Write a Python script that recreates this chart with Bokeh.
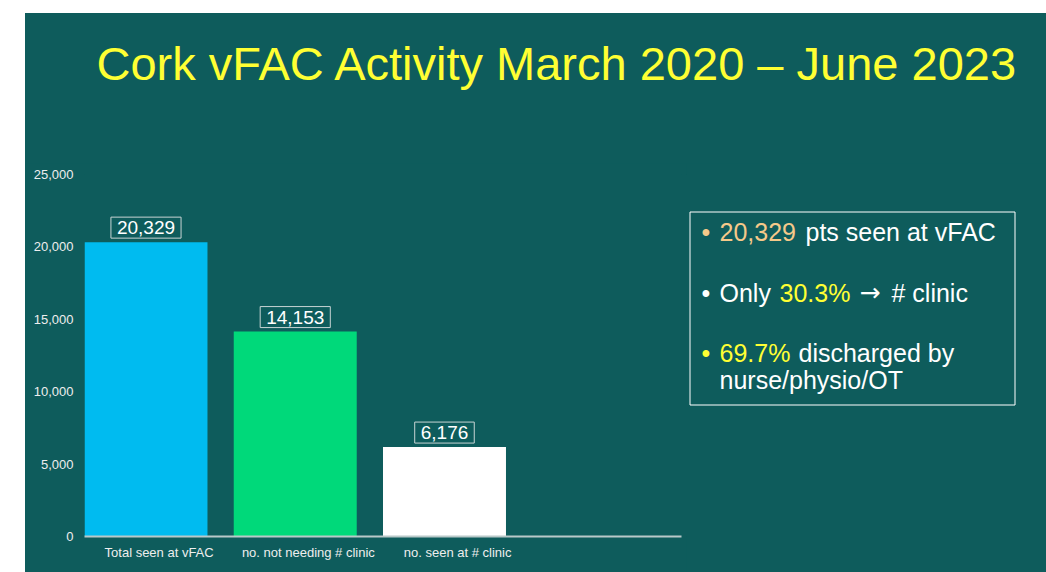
from bokeh.plotting import figure
from bokeh.layouts import column, row
from bokeh.models import ColumnDataSource, Label, FixedTicker, NumeralTickFormatter
from bokeh.transform import dodge
from bokeh.embed import file_html
from bokeh.resources import INLINE

# ---- data ----
categories = ["Total seen at vFAC", "no. not needing # clinic", "no. seen at # clinic", " "]
bar_categories = ["Total seen at vFAC", "no. not needing # clinic", "no. seen at # clinic"]
values = [20329, 14153, 6176]
bar_colors = ["#00bbf0", "#00d97a", "#ffffff"]
value_labels = ["20,329", "14,153", "6,176"]
y_ticks = [0, 5000, 10000, 15000, 20000, 25000]
title_text = "Cork vFAC Activity March 2020 \u2013 June 2023"

BG = "#0e5c5c"
FONT = "Liberation Sans"
TAN = "#f5c98a"
YELLOW = "#ffff33"
BAR_SHIFT = -0.088
BAR_WIDTH = 0.824
BGSTYLE = {"background-color": BG}

W, H = 1021, 559
TITLE_H = 150
CHART_W = 661
CHART_H = H - TITLE_H
BOX_W = W - CHART_W

# ---- title strip ----
t = figure(width=W, height=TITLE_H, x_range=(0, W), y_range=(TITLE_H, 0),
           output_backend="svg", toolbar_location=None, x_axis_type=None, y_axis_type=None,
           min_border=0, background_fill_color=BG, border_fill_color=BG, outline_line_color=None,
           styles=BGSTYLE)
t.grid.visible = False
t.add_layout(Label(x=71, y=50, text=title_text, text_font=FONT, text_font_size="47px",
                   text_color=YELLOW, text_baseline="alphabetic"))

# ---- bar chart ----
src = ColumnDataSource(dict(cat=bar_categories, val=values, color=bar_colors, lab=value_labels))

p = figure(width=CHART_W, height=CHART_H, x_range=categories, y_range=(0, 25000),
           output_backend="svg", toolbar_location=None,
           min_border_left=59, min_border_right=5, min_border_top=11, min_border_bottom=36,
           background_fill_color=BG, border_fill_color=BG, outline_line_color=None,
           styles=BGSTYLE)

p.vbar(x=dodge("cat", BAR_SHIFT, range=p.x_range), top="val", width=BAR_WIDTH, source=src,
       fill_color="color", line_color=None)

p.xgrid.grid_line_color = None
p.ygrid.grid_line_color = None

p.yaxis.ticker = FixedTicker(ticks=y_ticks)
p.yaxis.formatter = NumeralTickFormatter(format="0,0")
p.yaxis.axis_line_color = None
p.yaxis.major_tick_line_color = None
p.yaxis.minor_tick_line_color = None
p.yaxis.major_tick_out = 0
p.yaxis.major_label_standoff = 11
p.yaxis.major_label_text_font = FONT
p.yaxis.major_label_text_font_size = "13px"
p.yaxis.major_label_text_color = "#eeeeee"

p.xaxis.axis_line_color = "#b9c9c9"
p.xaxis.axis_line_width = 2
p.xaxis.major_tick_line_color = None
p.xaxis.major_tick_out = 0
p.xaxis.major_label_standoff = 8
p.xaxis.major_label_text_font = FONT
p.xaxis.major_label_text_font_size = "13px"
p.xaxis.major_label_text_color = "#eeeeee"

for i, (v, lab) in enumerate(zip(values, value_labels)):
    p.add_layout(Label(x=i + 0.5 + BAR_SHIFT, y=v, y_offset=4, text=lab,
                       text_align="center", text_baseline="bottom",
                       text_font=FONT, text_font_size="19px", text_color="#ffffff",
                       border_line_color="#c8d4d4", border_line_width=1, padding=(6, 4)))

# ---- text box panel (frame aligned with the chart frame) ----
b = figure(width=BOX_W, height=CHART_H, x_range=(0, BOX_W), y_range=(CHART_H - 47, 0),
           output_backend="svg", toolbar_location=None, x_axis_type=None, y_axis_type=None,
           min_border_left=0, min_border_right=0, min_border_top=11, min_border_bottom=36,
           background_fill_color=BG, border_fill_color=BG, outline_line_color=None,
           styles=BGSTYLE)
b.grid.visible = False
b.quad(left=[3.5], right=[328.5], top=[37.5], bottom=[230.5], fill_alpha=0,
       line_color="#ffffff", line_width=1)

pieces = [
    ("\u2022", 15, 57, TAN, FONT),
    ("20,329", 33, 57, TAN, FONT),
    ("pts seen at vFAC", 119, 57, "#ffffff", FONT),
    ("\u2022", 15, 118, "#ffffff", FONT),
    ("Only", 33, 118, "#ffffff", FONT),
    ("30.3%", 93, 118, YELLOW, FONT),
    ("\u2192", 173, 118, "#ffffff", "DejaVu Sans"),
    ("# clinic", 205, 118, "#ffffff", FONT),
    ("\u2022", 15, 178, YELLOW, FONT),
    ("69.7%", 33, 178, YELLOW, FONT),
    ("discharged by", 112, 178, "#ffffff", FONT),
    ("nurse/physio/OT", 33, 205, "#ffffff", FONT),
]
for txt, x, y, c, f in pieces:
    b.add_layout(Label(x=x, y=y, text=txt, text_font=f, text_font_size="25px",
                       text_color=c, text_baseline="alphabetic"))

layout = column(t, row(p, b, spacing=0, styles=BGSTYLE), spacing=0,
                margin=(13, 0, 0, 25), styles=BGSTYLE)

open("out.html", "w").write(file_html(layout, INLINE))
